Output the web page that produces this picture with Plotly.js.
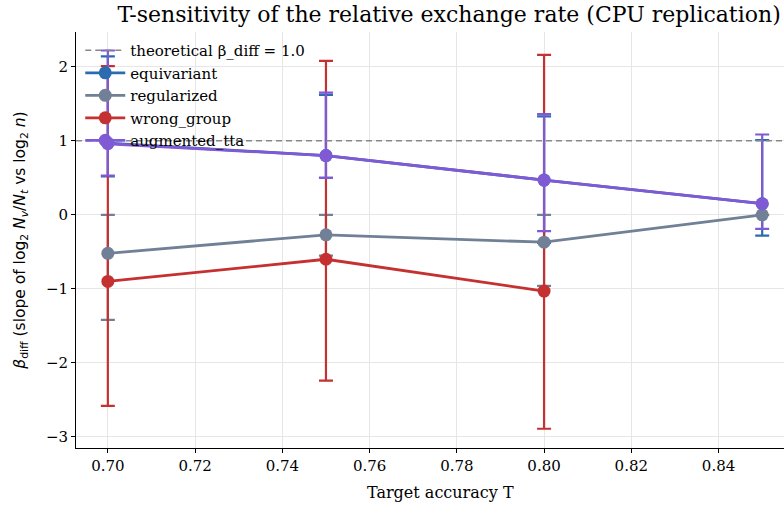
<!DOCTYPE html>
<html>
<head>
<meta charset="utf-8">
<script src="https://cdn.plot.ly/plotly-3.0.1.min.js"></script>
<style>html,body{margin:0;padding:0;background:#fff;}#chart{width:784px;height:506px;}</style>
</head>
<body>
<div id="chart"></div>
<script>
// ---- data ----
const targetAccuracy = [0.70, 0.75, 0.80, 0.85];
const theoreticalBeta = 1.0;

const equivariantBeta  = [0.97, 0.80, 0.47, 0.15];
const equivariantHigh  = [2.14, 1.62, 1.33, 1.01];
const equivariantLow   = [0.52, 0.50, -0.38, -0.28];

const regularizedBeta  = [-0.52, -0.27, -0.37, 0.00];
const regularizedHigh  = [0.00, 0.00, 0.00, 0.00];
const regularizedLow   = [-1.42, -0.55, -0.96, 0.00];

const wrongGroupX      = [0.70, 0.75, 0.80];
const wrongGroupBeta   = [-0.90, -0.60, -1.03];
const wrongGroupHigh   = [2.01, 2.08, 2.16];
const wrongGroupLow    = [-2.58, -2.24, -2.89];

const augmentedBeta    = [0.96, 0.80, 0.47, 0.15];
const augmentedHigh    = [2.22, 1.65, 1.36, 1.085];
const augmentedLow     = [0.53, 0.50, -0.22, -0.19];

const xRange = [0.6927, 0.855];
const yRange = [-3.15, 2.47];

// ---- styles ----
const serif = "DejaVu Serif";
const series = [
  {name: "equivariant",   x: targetAccuracy, y: equivariantBeta, hi: equivariantHigh, lo: equivariantLow, color: "#2b6cb0"},
  {name: "regularized",   x: targetAccuracy, y: regularizedBeta, hi: regularizedHigh, lo: regularizedLow, color: "#718096"},
  {name: "wrong_group",   x: wrongGroupX,    y: wrongGroupBeta,  hi: wrongGroupHigh,  lo: wrongGroupLow,  color: "#c53030"},
  {name: "augmented_tta", x: targetAccuracy, y: augmentedBeta,   hi: augmentedHigh,   lo: augmentedLow,   color: "#805ad5"}
];

const traces = [];
// error bars first (below all lines/markers)
series.forEach(s => {
  traces.push({
    type: "scatter", mode: "markers", x: s.x, y: s.y, showlegend: false, hoverinfo: "skip",
    marker: {size: 1, opacity: 0, color: s.color},
    error_y: {
      type: "data", symmetric: false,
      array: s.y.map((v, i) => s.hi[i] - v),
      arrayminus: s.y.map((v, i) => v - s.lo[i]),
      color: s.color, thickness: 2.2, width: 7
    }
  });
});
// theoretical reference line
traces.push({
  type: "scatter", mode: "lines", name: "theoretical β_diff = 1.0",
  x: xRange, y: xRange.map(() => theoreticalBeta),
  line: {color: "#888888", width: 1.5, dash: "6px,4px"}, legendrank: 1
});
// lines + markers
series.forEach((s, k) => {
  traces.push({
    type: "scatter", mode: "lines+markers", name: s.name, x: s.x, y: s.y,
    line: {color: s.color, width: 2.8},
    marker: {color: s.color, size: 13},
    legendrank: k + 2
  });
});

const axisCommon = {
  showline: true, linecolor: "#000", linewidth: 1, mirror: false,
  ticks: "outside", ticklen: 4, tickcolor: "#000", tickwidth: 1,
  showgrid: true, gridcolor: "#e6e6e6", gridwidth: 1, zeroline: false,
  tickfont: {family: serif, size: 15, color: "#000"}
};

const layout = {
  width: 784, height: 506,
  margin: {l: 76, r: 0, t: 32, b: 58},
  paper_bgcolor: "#fff", plot_bgcolor: "#fff",
  font: {family: serif},
  title: {
    text: "T-sensitivity of the relative exchange rate (CPU replication)",
    font: {family: serif, size: 22, color: "#000"},
    xref: "paper", x: 0.527, xanchor: "center",
    yref: "container", y: 0.972, yanchor: "middle"
  },
  xaxis: Object.assign({}, axisCommon, {
    range: xRange, tick0: 0.70, dtick: 0.02, tickformat: ".2f"
  }),
  yaxis: Object.assign({}, axisCommon, {
    range: yRange, tick0: 0, dtick: 1,
    title: {
      text: "<i>β</i><sub>diff</sub> (slope of log<sub>2</sub> <i>N<sub>v</sub></i>/<i>N<sub>t</sub></i> vs log<sub>2</sub> <i>n</i>)",
      font: {family: "DejaVu Sans", size: 15.5, color: "#000"}, standoff: 16
    }
  }),
  annotations: [{
    text: "Target accuracy T", showarrow: false,
    xref: "paper", x: 0.5155, xanchor: "center",
    yref: "paper", y: -0.108, yanchor: "middle",
    font: {family: serif, size: 16, color: "#000"}
  }],
  legend: {
    x: 0.006, y: 0.995, xanchor: "left", yanchor: "top",
    bgcolor: "rgba(0,0,0,0)", borderwidth: 0,
    font: {family: serif, size: 15, color: "#000"},
    tracegroupgap: 0, itemwidth: 40
  },
  showlegend: true
};

Plotly.newPlot("chart", traces, layout, {displayModeBar: false, staticPlot: true});
</script>
</body>
</html>
